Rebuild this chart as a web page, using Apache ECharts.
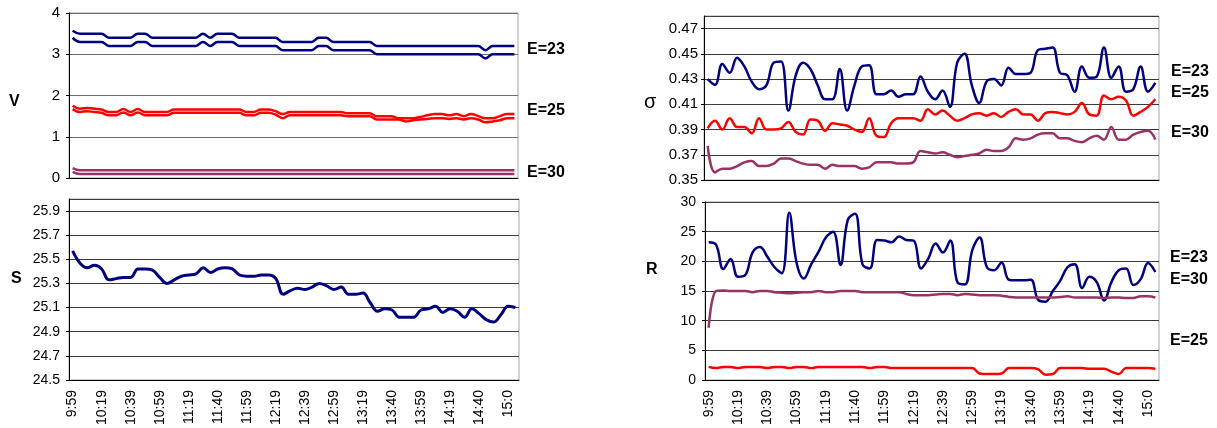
<!DOCTYPE html>
<html>
<head>
<meta charset="utf-8">
<script src="https://cdn.jsdelivr.net/npm/echarts@6/dist/echarts.min.js"></script>
<style>
  html, body { margin: 0; padding: 0; background: #fff; }
  #chart { width: 1217px; height: 428px; }
</style>
</head>
<body>
<div id="chart"></div>
<script>
// time stamps (labels shown every 4th one)
const CATEGORIES = [
  '9:59', '10:04', '10:09', '10:14', '10:19', '10:24', '10:29', '10:34', '10:39', '10:44',
  '10:49', '10:54', '10:59', '11:04', '11:09', '11:14', '11:19', '11:24', '11:29', '11:34',
  '11:40', '11:45', '11:50', '11:55', '11:59', '12:04', '12:09', '12:14', '12:19', '12:24',
  '12:29', '12:34', '12:39', '12:44', '12:49', '12:54', '12:59', '13:04', '13:09', '13:14',
  '13:19', '13:24', '13:29', '13:35', '13:40', '13:45', '13:50', '13:55', '13:59', '14:04',
  '14:09', '14:14', '14:19', '14:24', '14:29', '14:35', '14:40', '14:45', '14:50', '14:55',
  '15:0', '15:05'
];

// V panel, two traces per E
const V_E23_A = [3.57, 3.5, 3.5, 3.5, 3.5, 3.4, 3.4, 3.4, 3.4, 3.5, 3.5, 3.4, 3.4, 3.4, 3.4, 3.4, 3.4, 3.4, 3.5, 3.4,
  3.5, 3.5, 3.5, 3.4, 3.4, 3.4, 3.4, 3.4, 3.4, 3.3, 3.3, 3.3, 3.3, 3.3, 3.4, 3.4, 3.3, 3.3, 3.3, 3.3,
  3.3, 3.3, 3.2, 3.2, 3.2, 3.2, 3.2, 3.2, 3.2, 3.2, 3.2, 3.2, 3.2, 3.2, 3.2, 3.2, 3.2, 3.1, 3.2, 3.2,
  3.2, 3.2];
const V_E23_B = [3.4, 3.3, 3.3, 3.3, 3.3, 3.2, 3.2, 3.2, 3.2, 3.3, 3.3, 3.2, 3.2, 3.2, 3.2, 3.2, 3.2, 3.2, 3.3, 3.2,
  3.3, 3.3, 3.3, 3.2, 3.2, 3.2, 3.2, 3.2, 3.2, 3.1, 3.1, 3.1, 3.1, 3.1, 3.2, 3.2, 3.1, 3.1, 3.1, 3.1,
  3.1, 3.1, 3.0, 3.0, 3.0, 3.0, 3.0, 3.0, 3.0, 3.0, 3.0, 3.0, 3.0, 3.0, 3.0, 3.0, 3.0, 2.9, 3.0, 3.0,
  3.0, 3.0];
const V_E25_A = [1.75, 1.68, 1.7, 1.68, 1.66, 1.6, 1.6, 1.67, 1.6, 1.67, 1.6, 1.6, 1.6, 1.6, 1.66, 1.66, 1.66, 1.66, 1.66, 1.66,
  1.66, 1.66, 1.66, 1.66, 1.6, 1.6, 1.66, 1.66, 1.62, 1.55, 1.6, 1.6, 1.6, 1.6, 1.6, 1.6, 1.6, 1.6, 1.57, 1.57,
  1.57, 1.57, 1.5, 1.5, 1.5, 1.45, 1.45, 1.45, 1.48, 1.52, 1.55, 1.55, 1.52, 1.55, 1.5, 1.55, 1.5, 1.45, 1.45, 1.5,
  1.55, 1.55];
const V_E25_B = [1.67, 1.6, 1.62, 1.6, 1.58, 1.52, 1.52, 1.59, 1.52, 1.59, 1.52, 1.52, 1.52, 1.52, 1.58, 1.58, 1.58, 1.58, 1.58, 1.58,
  1.58, 1.58, 1.58, 1.58, 1.52, 1.52, 1.58, 1.58, 1.54, 1.45, 1.52, 1.52, 1.52, 1.52, 1.52, 1.52, 1.52, 1.52, 1.5, 1.5,
  1.5, 1.5, 1.42, 1.42, 1.42, 1.42, 1.37, 1.4, 1.42, 1.43, 1.45, 1.45, 1.43, 1.45, 1.42, 1.45, 1.42, 1.35, 1.37, 1.4,
  1.45, 1.45];
const V_E30_A = [0.24, 0.19, 0.19, 0.19, 0.19, 0.19, 0.19, 0.19, 0.19, 0.19, 0.19, 0.19, 0.19, 0.19, 0.19, 0.19, 0.19, 0.19, 0.19, 0.19,
  0.19, 0.19, 0.19, 0.19, 0.19, 0.19, 0.19, 0.19, 0.19, 0.19, 0.19, 0.19, 0.19, 0.19, 0.19, 0.19, 0.19, 0.19, 0.19, 0.19,
  0.19, 0.19, 0.19, 0.19, 0.19, 0.19, 0.19, 0.19, 0.19, 0.19, 0.19, 0.19, 0.19, 0.19, 0.19, 0.19, 0.19, 0.19, 0.19, 0.19,
  0.19, 0.19];
const V_E30_B = [0.15, 0.1, 0.1, 0.1, 0.1, 0.1, 0.1, 0.1, 0.1, 0.1, 0.1, 0.1, 0.1, 0.1, 0.1, 0.1, 0.1, 0.1, 0.1, 0.1,
  0.1, 0.1, 0.1, 0.1, 0.1, 0.1, 0.1, 0.1, 0.1, 0.1, 0.1, 0.1, 0.1, 0.1, 0.1, 0.1, 0.1, 0.1, 0.1, 0.1,
  0.1, 0.1, 0.1, 0.1, 0.1, 0.1, 0.1, 0.1, 0.1, 0.1, 0.1, 0.1, 0.1, 0.1, 0.1, 0.1, 0.1, 0.1, 0.1, 0.1,
  0.1, 0.1];

// S panel
const S_VALUES = [25.57, 25.47, 25.43, 25.45, 25.42, 25.33, 25.34, 25.35, 25.35, 25.42, 25.42, 25.41, 25.35, 25.3, 25.33, 25.36, 25.37, 25.38, 25.43, 25.39,
  25.42, 25.43, 25.42, 25.37, 25.36, 25.36, 25.37, 25.37, 25.34, 25.21, 25.24, 25.26, 25.25, 25.27, 25.3, 25.28, 25.25, 25.27, 25.21, 25.21,
  25.22, 25.14, 25.07, 25.09, 25.08, 25.02, 25.02, 25.02, 25.08, 25.09, 25.11, 25.06, 25.09, 25.07, 25.02, 25.09, 25.05, 25.0, 24.98, 25.04,
  25.11, 25.1];

// sigma panel
const SIG_E23 = [0.43, 0.4255, 0.442, 0.435, 0.447, 0.44, 0.428, 0.422, 0.425, 0.443, 0.444, 0.405, 0.433, 0.443, 0.438, 0.425, 0.414, 0.414, 0.438, 0.405,
  0.425, 0.44, 0.441, 0.418, 0.418, 0.421, 0.416, 0.418, 0.418, 0.432, 0.42, 0.414, 0.421, 0.408, 0.443, 0.45, 0.425, 0.411, 0.428, 0.43,
  0.425, 0.439, 0.434, 0.434, 0.435, 0.453, 0.454, 0.455, 0.435, 0.433, 0.42, 0.44, 0.431, 0.432, 0.455, 0.431, 0.44, 0.42, 0.422, 0.44,
  0.42, 0.427];
const SIG_E25 = [0.391, 0.397, 0.39, 0.399, 0.392, 0.392, 0.387, 0.399, 0.39, 0.39, 0.391, 0.396, 0.388, 0.386, 0.398, 0.397, 0.389, 0.395, 0.394, 0.393,
  0.39, 0.388, 0.399, 0.385, 0.384, 0.395, 0.399, 0.399, 0.399, 0.397, 0.406, 0.402, 0.405, 0.401, 0.397, 0.399, 0.402, 0.403, 0.401, 0.403,
  0.4, 0.404, 0.406, 0.402, 0.402, 0.397, 0.403, 0.404, 0.403, 0.402, 0.404, 0.411, 0.402, 0.401, 0.417, 0.414, 0.416, 0.413, 0.401, 0.404,
  0.408, 0.414];
const SIG_E30 = [0.377, 0.356, 0.359, 0.359, 0.361, 0.364, 0.365, 0.361, 0.361, 0.363, 0.367, 0.367, 0.365, 0.363, 0.362, 0.362, 0.359, 0.362, 0.361, 0.361,
  0.361, 0.359, 0.36, 0.364, 0.364, 0.364, 0.363, 0.363, 0.364, 0.373, 0.372, 0.371, 0.372, 0.37, 0.368, 0.369, 0.37, 0.371, 0.374, 0.373,
  0.373, 0.376, 0.383, 0.382, 0.383, 0.386, 0.387, 0.387, 0.383, 0.383, 0.381, 0.38, 0.383, 0.385, 0.382, 0.392, 0.382, 0.382, 0.386, 0.388,
  0.389, 0.382];

// R panel
const R_E23 = [23.2, 22.8, 18.7, 20.4, 17.4, 17.7, 21.5, 22.4, 20.8, 19, 18, 28.2, 19.8, 17.1, 19.5, 21.6, 24, 25, 19.4, 27,
  28, 19.5, 18.8, 23.6, 23.5, 23.2, 24.2, 23.6, 23.5, 18.8, 20.5, 23, 21.5, 23.5, 16.4, 16.1, 21.9, 24, 19, 18.5,
  19.8, 16.9, 16.8, 16.8, 16.9, 13.5, 13.2, 15, 16.7, 19, 19.5, 15.5, 17.4, 16.5, 13.4, 16.5, 18.5, 18.8, 16, 17,
  19.7, 18.2];
const R_E25 = [2.2, 2.0, 2.2, 2.2, 2.0, 2.2, 2.2, 2.2, 2.0, 2.2, 2.2, 2.0, 2.2, 2.2, 2.0, 2.2, 2.2, 2.2, 2.2, 2.2,
  2.2, 2.2, 2.0, 2.2, 2.2, 2.0, 2.0, 2.0, 2.0, 2.0, 2.0, 2.0, 2.0, 2.0, 2.0, 2.0, 2.0, 1.1, 1.0, 1.0,
  1.1, 2.0, 2.0, 2.0, 2.0, 1.8, 0.9, 1.0, 2.0, 2.0, 2.0, 2.0, 1.9, 1.9, 1.9, 1.4, 1.0, 2.0, 2.0, 2.0,
  2.0, 1.9];
const R_E30 = [8.8, 15, 15.1, 15, 15, 15, 14.8, 15, 15, 14.8, 14.7, 14.6, 14.7, 14.8, 14.8, 15, 14.8, 14.8, 15, 15,
  15, 14.8, 14.8, 14.8, 14.8, 14.8, 14.8, 14.5, 14.3, 14.3, 14.3, 14.4, 14.5, 14.5, 14.3, 14.5, 14.4, 14.3, 14.3, 14.3,
  14.2, 14, 13.9, 13.9, 13.9, 13.9, 13.9, 13.9, 14, 14.1, 13.9, 13.9, 13.9, 13.9, 13.8, 13.9, 13.9, 13.8, 13.8, 14.1,
  14.1, 13.9];

// axis ranges
const S_MIN = 24.5, S_MAX = 26.0, S_STEP = 0.2;
const SIG_MIN = 0.35, SIG_MAX = 0.48, SIG_STEP = 0.02;

const NAVY = '#000080';
const RED = '#ff0000';
const PLUM = '#993366';
const FONT = 'Liberation Sans, Arial, sans-serif';

const chart = echarts.init(document.getElementById('chart'));

const gridStyle = { show: true, borderColor: '#a6a6a6', borderWidth: 1, backgroundColor: 'transparent' };

const makeX = (gridIndex, withLabels) => ({
  type: 'category',
  gridIndex,
  data: CATEGORIES,
  boundaryGap: true,
  axisLine: { lineStyle: { color: '#000', width: 1 } },
  axisTick: { show: false },
  axisLabel: withLabels ? {
    show: true, interval: 3, rotate: 90, margin: 10,
    color: '#000', fontSize: 14, fontFamily: FONT
  } : { show: false },
  splitLine: { show: false }
});

const yLabel = { color: '#000', fontSize: 14, fontFamily: FONT, margin: 9 };
const yLine = { show: true, lineStyle: { color: '#000', width: 1 } };
const yTick = { show: true, length: 3, lineStyle: { color: '#000' } };
const ySplit = { show: true, lineStyle: { color: '#3a3a3a', width: 1 } };

const line = (name, xi, yi, data, color, width) => ({
  name, type: 'line', xAxisIndex: xi, yAxisIndex: yi, data,
  symbol: 'none', smooth: 0.4,
  lineStyle: { color, width }, itemStyle: { color },
  z: 3
});

const text = (str, x, y, opts) => Object.assign({
  type: 'text', left: x, top: y,
  style: { text: str, fill: '#000', font: 'bold 16px ' + FONT }
}, opts || {});

chart.setOption({
  animation: false,
  backgroundColor: '#fff',
  grid: [
    Object.assign({ left: 69, top: 13, width: 449, height: 165 }, gridStyle),
    Object.assign({ left: 69, top: 199, width: 450, height: 182 }, gridStyle),
    Object.assign({ left: 704, top: 16, width: 455, height: 164 }, gridStyle),
    Object.assign({ left: 705, top: 202, width: 454, height: 182 }, gridStyle)
  ],
  xAxis: [makeX(0, false), makeX(1, true), makeX(2, false), makeX(3, true)],
  yAxis: [
    { type: 'value', gridIndex: 0, position: 'left', min: 0, max: 4, interval: 1,
      axisLine: yLine, axisTick: yTick, axisLabel: Object.assign({}, yLabel, { fontSize: 15 }),
      splitLine: { show: true, lineStyle: { color: '#6e6e6e' } } },
    // S: data axis (hidden) + label axis offset from S_MIN
    { type: 'value', gridIndex: 1, position: 'left', min: S_MIN, max: S_MAX, show: false },
    { type: 'value', gridIndex: 1, position: 'left', min: 0, max: S_MAX - S_MIN, interval: S_STEP,
      axisLine: yLine, axisTick: yTick, splitLine: ySplit,
      axisLabel: Object.assign({}, yLabel, {
        showMaxLabel: false,
        formatter: v => (S_MIN + v).toFixed(1)
      }) },
    // sigma: same trick
    { type: 'value', gridIndex: 2, position: 'left', min: SIG_MIN, max: SIG_MAX, show: false },
    { type: 'value', gridIndex: 2, position: 'left', min: 0, max: SIG_MAX - SIG_MIN, interval: SIG_STEP,
      axisLine: yLine, axisTick: yTick, splitLine: ySplit,
      axisLabel: Object.assign({}, yLabel, {
        fontSize: 15,
        margin: 6,
        showMaxLabel: false,
        formatter: v => (SIG_MIN + v).toFixed(2)
      }) },
    { type: 'value', gridIndex: 3, position: 'left', min: 0, max: 30, interval: 5,
      axisLine: yLine, axisTick: yTick, axisLabel: yLabel, splitLine: ySplit }
  ],
  series: [
    line('V E=23 a', 0, 0, V_E23_A, NAVY, 2.5),
    line('V E=23 b', 0, 0, V_E23_B, NAVY, 2.5),
    line('V E=25 a', 0, 0, V_E25_A, RED, 2.5),
    line('V E=25 b', 0, 0, V_E25_B, RED, 2.5),
    line('V E=30 a', 0, 0, V_E30_A, PLUM, 2.5),
    line('V E=30 b', 0, 0, V_E30_B, PLUM, 2.5),
    line('S', 1, 1, S_VALUES, NAVY, 3),
    line('σ E=23', 2, 3, SIG_E23, NAVY, 2.5),
    line('σ E=25', 2, 3, SIG_E25, RED, 2.5),
    line('σ E=30', 2, 3, SIG_E30, PLUM, 2.5),
    line('R E=23', 3, 5, R_E23, NAVY, 2.5),
    line('R E=25', 3, 5, R_E25, RED, 2.5),
    line('R E=30', 3, 5, R_E30, PLUM, 2.5)
  ],
  graphic: [
    // axis titles
    text('V', 9, 94),
    text('S', 11, 271),
    text('σ', 644, 92, { style: { text: 'σ', fill: '#000', font: '20px ' + FONT } }),
    text('R', 646, 262),
    // E labels
    text('E=23', 527, 42),
    text('E=25', 527, 103),
    text('E=30', 527, 165),
    text('E=23', 1171, 64),
    text('E=25', 1171, 85),
    text('E=30', 1171, 125),
    text('E=23', 1170, 250),
    text('E=30', 1170, 272),
    text('E=25', 1170, 333)
  ]
});
</script>
</body>
</html>
